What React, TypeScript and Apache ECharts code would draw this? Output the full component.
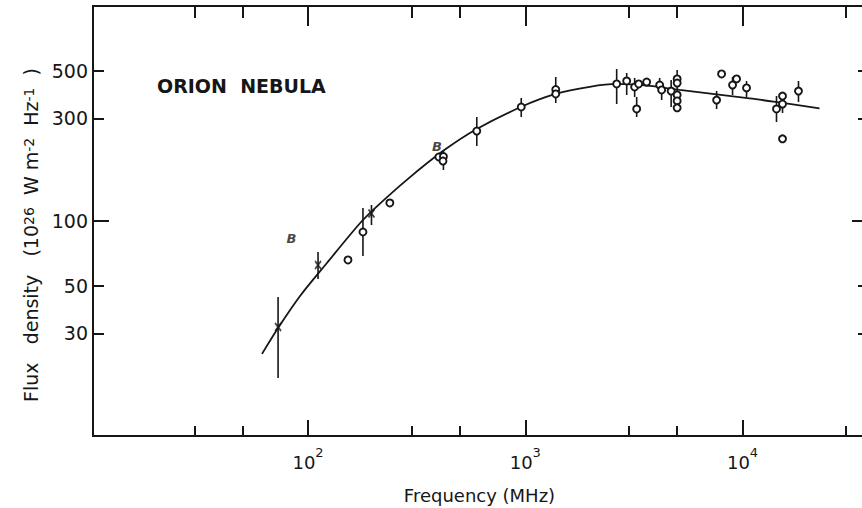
import React, { useEffect, useRef } from "react";
import * as echarts from "echarts";

// ---- axis ranges & ticks ----
const xRange = [10.24, 37000];
const yRange = [10, 1000];
const xMajorTicks = [100, 1000, 10000];
const xMinorTicks = [30, 50, 300, 500, 3000, 5000, 30000];
const yMajorTicks = [100];
const yMinorTicks = [30, 50, 300, 500];
const yTickLabels = [30, 50, 100, 300, 500];

// ---- data (frequency MHz, flux density 1e-26 W m^-2 Hz^-1) ----
const circlePoints: [number, number][] = [
  [152.7, 65.9], [179, 88.9], [238, 121.3], [400, 198.5], [420, 199.5], [418, 190],
  [598, 262], [958, 339], [1381, 409], [1381, 390], [2634, 434], [2929, 448],
  [3187, 420], [3256, 332], [3326, 434], [3620, 443], [4154, 429], [4243, 407],
  [4692, 402], [5000, 458], [5000, 438], [5000, 386], [5000, 362], [5000, 336],
  [7596, 365], [8008, 483], [8995, 429], [9385, 458], [10432, 416], [14330, 332],
  [15275, 350], [15275, 381], [15275, 241], [18090, 402],
];
const crossPoints: [number, number][] = [
  [72.8, 32.1], [111.2, 62.4], [195.9, 108.4],
];
const bPoints: [number, number][] = [
  [84, 83.3], [392, 223],
];
// [frequency, low, high]
const errorBars: [number, number, number][] = [
  [72.8, 18.6, 44.3], [111.2, 53.7, 71.8], [179, 68.7, 114.9], [195.9, 95.8, 118.7],
  [420, 172.7, 213.9], [598, 223.3, 304.6], [958, 304.6, 373.3], [1381, 353.9, 467.6],
  [2634, 350.1, 509.3], [2929, 385.5, 487.9], [3187, 377.4, 462.5], [3256, 304.6, 377.4],
  [4154, 393.9, 462.5], [4243, 365.4, 420], [4692, 339, 452.7], [5000, 353.9, 503.9],
  [7596, 331.9, 402.3], [8995, 385.5, 467.6], [10432, 377.4, 447.9], [14330, 288.6, 381.4],
  [15275, 317.9, 385.5], [18090, 357.7, 447.9],
];
const fitCurve: [number, number][] = [
  [61.4, 24.1], [72.8, 31.8], [91.9, 44.8], [121.9, 63.6], [173.4, 97.6], [207, 116.6],
  [284, 155], [419, 212], [598, 268], [960, 340], [1380, 390], [1980, 421], [2634, 434],
  [3735, 425], [5132, 407], [10770, 372], [14180, 358], [22600, 334],
];

const INK = "#161616";
const FONT = "DejaVu Sans";

function makeAxis(kind: "x" | "y", position: string, ticks: number[], len: number, extra: any = {}) {
  const range = kind === "x" ? xRange : yRange;
  return {
    type: "log",
    logBase: 10,
    position,
    min: range[0],
    max: range[1],
    gridIndex: 0,
    splitLine: { show: false },
    axisLine: { show: true, lineStyle: { color: INK, width: 2 } },
    axisTick: { show: true, inside: true, length: len, customValues: ticks, lineStyle: { color: INK, width: 2 } },
    axisLabel: { show: false },
    ...extra,
  };
}

export default function App() {
  const ref = useRef<HTMLDivElement>(null);
  useEffect(() => {
    if (!ref.current) return;
    const chart = echarts.init(ref.current, undefined, { renderer: "svg" });
    const option: any = {
      animation: false,
      backgroundColor: "#ffffff",
      grid: {
        left: 93, top: 6, width: 773, height: 430,
        containLabel: false, outerBoundsMode: "none",
      },
      xAxis: [
        makeAxis("x", "bottom", xMajorTicks, 16, {
          axisLabel: {
            show: true,
            customValues: xMajorTicks,
            margin: 10,
            formatter: (v: number) => `{b|10}{s|${Math.round(Math.log10(v))}}`,
            rich: {
              b: { fontSize: 18, fontFamily: FONT, color: INK, padding: [7, 0, 0, 0] },
              s: { fontSize: 13, fontFamily: FONT, color: INK, verticalAlign: "top" },
            },
          },
          name: "Frequency (MHz)",
          nameLocation: "middle",
          nameGap: 50,
          nameTextStyle: { fontSize: 18, fontFamily: FONT, color: INK },
        }),
        makeAxis("x", "bottom", xMinorTicks, 10),
        makeAxis("x", "top", xMajorTicks, 20),
        makeAxis("x", "top", xMinorTicks, 12),
      ],
      yAxis: [
        makeAxis("y", "left", yMajorTicks, 16, {
          axisLabel: {
            show: true,
            customValues: yTickLabels,
            margin: 5,
            formatter: (v: number) => String(Math.round(v)),
            fontSize: 19,
            fontFamily: FONT,
            color: INK,
          },
          name: "Flux   density   (10{s|26}  W m{s|-2}  Hz{s|-1}  )",
          nameLocation: "middle",
          nameGap: 50,
          nameTextStyle: {
            fontSize: 19,
            fontFamily: FONT,
            color: INK,
            padding: [0, 28, 0, 0],
            rich: {
              s: { fontSize: 14, fontFamily: FONT, color: INK, verticalAlign: "top" },
            },
          },
        }),
        makeAxis("y", "left", yMinorTicks, 11),
        makeAxis("y", "right", yMajorTicks, 14),
        makeAxis("y", "right", yMinorTicks, 8),
      ],
      graphic: [
        {
          type: "text",
          left: 157,
          top: 76,
          style: { text: "ORION  NEBULA", fontSize: 19, fontWeight: "bold", fontFamily: FONT, fill: INK },
        },
      ],
      series: [
        {
          type: "custom",
          xAxisIndex: 0,
          yAxisIndex: 0,
          data: errorBars,
          z: 2,
          renderItem: (params: any, api: any) => {
            const p1 = api.coord([api.value(0), api.value(1)]);
            const p2 = api.coord([api.value(0), api.value(2)]);
            return {
              type: "line",
              shape: { x1: p1[0], y1: p1[1], x2: p2[0], y2: p2[1] },
              style: { stroke: INK, lineWidth: 1.6 },
            };
          },
        },
        {
          type: "line",
          xAxisIndex: 0,
          yAxisIndex: 0,
          data: fitCurve,
          smooth: 0.3,
          showSymbol: false,
          lineStyle: { color: INK, width: 1.8 },
          z: 3,
        },
        {
          type: "scatter",
          xAxisIndex: 0,
          yAxisIndex: 0,
          data: circlePoints,
          symbol: "circle",
          symbolSize: 7,
          itemStyle: { color: "#ffffff", borderColor: INK, borderWidth: 1.9, opacity: 1 },
          z: 4,
        },
        {
          type: "scatter",
          xAxisIndex: 0,
          yAxisIndex: 0,
          data: crossPoints,
          symbol: "path://M0,0L6,8M6,0L0,8",
          symbolSize: [6, 8],
          itemStyle: { color: "rgba(0,0,0,0)", borderColor: INK, borderWidth: 1.8 },
          z: 4,
        },
        {
          type: "scatter",
          xAxisIndex: 0,
          yAxisIndex: 0,
          data: bPoints,
          symbolSize: 0,
          label: {
            show: true,
            position: "inside",
            formatter: "B",
            fontStyle: "italic",
            fontWeight: "bold",
            fontSize: 13,
            fontFamily: FONT,
            color: INK,
          },
          z: 4,
        },
      ],
    };
    chart.setOption(option);
    return () => chart.dispose();
  }, []);
  return (
    <div
      ref={ref}
      style={{ position: "fixed", left: 0, top: 0, width: 862, height: 508, background: "#fff" }}
    />
  );
}
